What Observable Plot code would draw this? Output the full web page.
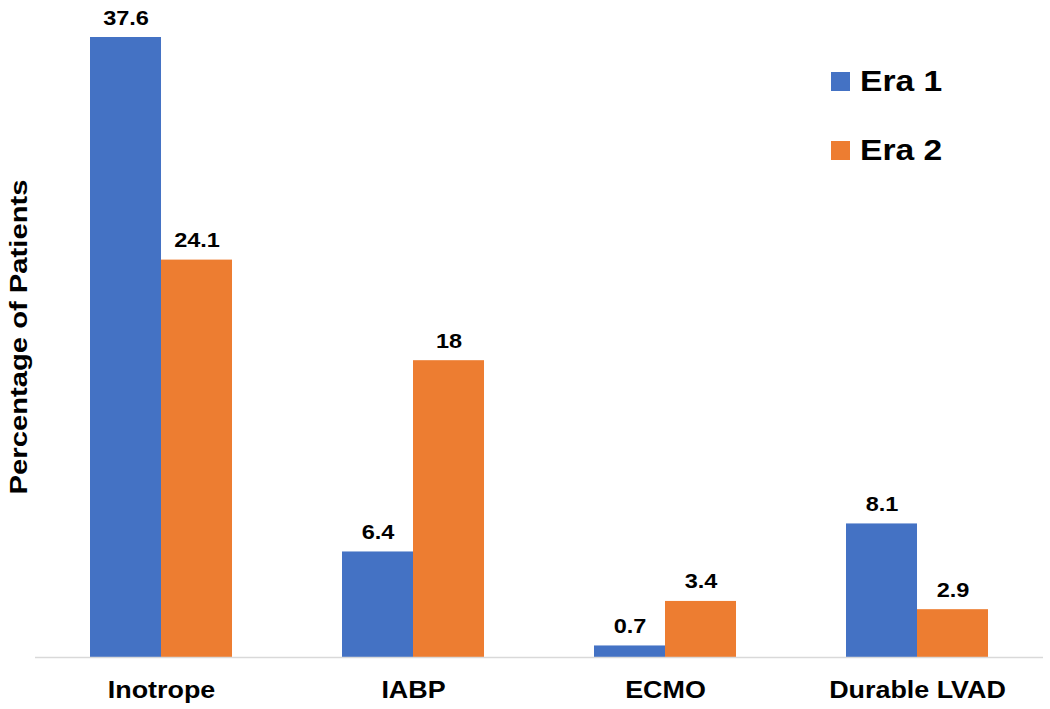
<!DOCTYPE html>
<html><head><meta charset="utf-8">
<script src="https://cdn.jsdelivr.net/npm/d3@7"></script>
<script src="https://cdn.jsdelivr.net/npm/@observablehq/plot@0.6"></script>
<style>
body{margin:0;background:#fff;font-family:"Liberation Sans",Arial,sans-serif}
#wrap{position:relative;width:1050px;height:709px}
.lg{position:absolute;left:831px;display:flex;align-items:center}
.sw{width:19px;height:19px;margin-right:10px}
.lt{font-size:30px;font-weight:bold;color:#000;transform:scaleX(1.12);transform-origin:left center;line-height:1}
#ylab{position:absolute;left:19px;top:337px;font-size:23px;font-weight:bold;color:#000;white-space:nowrap;transform:translate(-50%,-50%) rotate(-90deg) scaleX(1.27);line-height:1}
</style></head><body><div id="wrap"></div>
<script>
const categories = ["Inotrope", "IABP", "ECMO", "Durable LVAD"];
const series = ["Era 1", "Era 2"];
const era1 = [37.6, 6.4, 0.7, 8.1];
const era2 = [24.1, 18, 3.4, 2.9];
const colors = ["#4472C4", "#ED7D31"];
const yLabel = "Percentage of Patients";

const data = categories.flatMap((c, i) => [
  {category: c, era: series[0], value: era1[i]},
  {category: c, era: series[1], value: era2[i]}
]);

const chart = Plot.plot({
  width: 1050, height: 709,
  marginTop: 37, marginBottom: 52, marginLeft: 35, marginRight: 7,
  style: {fontFamily: "'Liberation Sans', Arial, sans-serif", background: "#fff"},
  fx: {domain: categories, paddingInner: 0.4286, paddingOuter: 0.2143, round: false, label: null},
  x: {domain: series, padding: 0, axis: null},
  y: {domain: [0, 37.6], axis: null},
  color: {domain: series, range: colors},
  marks: [
    Plot.barY(data, {fx: "category", x: "era", y: "value", fill: "era"}),
    Plot.ruleY([0], {stroke: "#d9d9d9", strokeWidth: 1.5, insetLeft: -54, insetRight: -54}),
    Plot.text(data, {fx: "category", x: "era", y: "value", text: d => String(d.value),
      lineAnchor: "bottom", dy: -13, fontWeight: "bold", fontSize: 21, fill: "#000"}),
    Plot.axisFx({anchor: "bottom", tickSize: 0, tickPadding: 23, fontSize: 24, fontWeight: "bold", label: null, fill: "#000"})
  ]
});

const wrap = document.getElementById("wrap");
wrap.appendChild(chart);
chart.querySelectorAll("text").forEach(t => {
  const w = t.getComputedTextLength();
  if (w > 0) { t.setAttribute("textLength", w * 1.12); t.setAttribute("lengthAdjust", "spacingAndGlyphs"); }
});

series.forEach((s, i) => {
  const d = document.createElement("div");
  d.className = "lg";
  d.style.top = (66 + i * 69) + "px";
  d.innerHTML = `<div class="sw" style="background:${colors[i]}"></div><div class="lt">${s}</div>`;
  wrap.appendChild(d);
});
const yl = document.createElement("div");
yl.id = "ylab";
yl.textContent = yLabel;
wrap.appendChild(yl);
</script></body></html>
